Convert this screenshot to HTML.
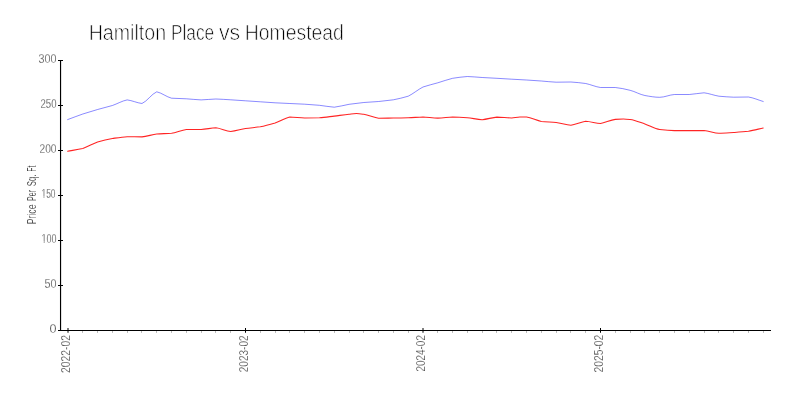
<!DOCTYPE html>
<html lang="en"><head><meta charset="utf-8"><title>Hamilton Place vs Homestead</title>
<style>
html,body{margin:0;padding:0;background:#fff}
body{width:800px;height:400px;overflow:hidden}
svg{display:block}
body,svg,g,text,tspan{font-family:"Liberation Sans",sans-serif}
.t{fill:#000;stroke:#fff;stroke-width:0.72px}
.l{fill:#333;stroke:#fff;stroke-width:0.28px}
.r{fill:#222;stroke:#fff;stroke-width:0.15px}
.x{fill:#1a1a1a;stroke:#fff;stroke-width:0.32px}
</style></head><body>
<svg width="800" height="400" viewBox="0 0 800 400" font-family="Liberation Sans, sans-serif">
<rect width="800" height="400" fill="#fff"/>
<text y="40.4" font-size="22" class="t"><tspan x="88.7" textLength="77.4" lengthAdjust="spacingAndGlyphs">Hamilton</tspan> <tspan x="170.95" textLength="43.3" lengthAdjust="spacingAndGlyphs">Place</tspan> <tspan x="218.9" textLength="21.2" lengthAdjust="spacingAndGlyphs">vs</tspan> <tspan x="244.75" textLength="99.1" lengthAdjust="spacingAndGlyphs">Homestead</tspan></text>
<path d="M82.5 331v1.9M97.5 331v1.9M112.5 331v1.9M127.5 331v1.9M141.5 331v1.9M156.5 331v1.9M171.5 331v1.9M186.5 331v1.9M201.5 331v1.9M215.5 331v1.9M230.5 331v1.9M260.5 331v1.9M275.5 331v1.9M289.5 331v1.9M304.5 331v1.9M319.5 331v1.9M334.5 331v1.9M349.5 331v1.9M363.5 331v1.9M378.5 331v1.9M393.5 331v1.9M408.5 331v1.9M437.5 331v1.9M452.5 331v1.9M467.5 331v1.9M482.5 331v1.9M496.5 331v1.9M511.5 331v1.9M526.5 331v1.9M541.5 331v1.9M556.5 331v1.9M570.5 331v1.9M585.5 331v1.9M615.5 331v1.9M630.5 331v1.9M644.5 331v1.9M659.5 331v1.9M674.5 331v1.9M689.5 331v1.9M704.5 331v1.9M718.5 331v1.9M733.5 331v1.9M748.5 331v1.9M763.5 331v1.9" stroke="#b8b8b8" stroke-width="1" fill="none"/>
<path d="M60.55 60V331.00" stroke="#000" stroke-width="1.15" fill="none"/>
<path d="M58 330.45H771" stroke="#000" stroke-width="1.15" fill="none"/>
<path d="M58 330.50h5M58 285.50h5M58 240.50h5M58 195.50h5M58 150.50h5M58 105.50h5M58 60.50h5" stroke="#000" stroke-width="1" fill="none"/>
<path d="M68.00 328v4.75M245.50 328v4.75M423.01 328v4.75M600.51 328v4.75" stroke="#000" stroke-width="1" fill="none"/>
<text x="49.50" y="332.75" font-size="12.3" textLength="7.00" lengthAdjust="spacingAndGlyphs" class="l">0</text>
<text x="44.50" y="287.75" font-size="12.3" textLength="12.00" lengthAdjust="spacingAndGlyphs" class="l">50</text>
<text x="41.50" y="242.75" font-size="12.3" textLength="15.00" lengthAdjust="spacingAndGlyphs" class="l">100</text>
<text x="41.50" y="197.75" font-size="12.3" textLength="14.00" lengthAdjust="spacingAndGlyphs" class="l">150</text>
<text x="39.50" y="152.75" font-size="12.3" textLength="17.00" lengthAdjust="spacingAndGlyphs" class="l">200</text>
<text x="40.50" y="107.75" font-size="12.3" textLength="16.00" lengthAdjust="spacingAndGlyphs" class="l">250</text>
<text x="38.50" y="62.75" font-size="12.3" textLength="18.00" lengthAdjust="spacingAndGlyphs" class="l">300</text>
<path d="M41.74 196.40H43.56V198.25H41.74ZM44.40 196.40H46.16V198.25H44.40Z" fill="#fff"/>
<path d="M41.78 241.40H43.71V243.25H41.78ZM44.61 241.40H46.46V243.25H44.61Z" fill="#fff"/>
<text transform="translate(70.10 373.00) rotate(-90)" font-size="12.5" textLength="37.90" lengthAdjust="spacingAndGlyphs" class="x">2022-02</text>
<text transform="translate(247.60 372.20) rotate(-90)" font-size="12.5" textLength="36.70" lengthAdjust="spacingAndGlyphs" class="x">2023-02</text>
<text transform="translate(425.11 371.50) rotate(-90)" font-size="12.5" textLength="36.40" lengthAdjust="spacingAndGlyphs" class="x">2024-02</text>
<text transform="translate(602.61 372.40) rotate(-90)" font-size="12.5" textLength="37.70" lengthAdjust="spacingAndGlyphs" class="x">2025-02</text>
<text transform="translate(36 0) rotate(-90)" font-size="12.5" class="r"><tspan x="-224.30" textLength="19.80" lengthAdjust="spacingAndGlyphs">Price</tspan> <tspan x="-201.00" textLength="11.00" lengthAdjust="spacingAndGlyphs">Per</tspan> <tspan x="-186.20" textLength="11.70" lengthAdjust="spacingAndGlyphs">Sq.</tspan> <tspan x="-171.40" textLength="5.70" lengthAdjust="spacingAndGlyphs">Ft</tspan></text>
<path d="M67.60 119.60C72.66 117.73 77.73 115.78 82.79 114.00C87.72 112.43 92.65 110.96 97.58 109.50C102.51 108.13 107.45 106.94 112.38 105.50C117.31 103.79 122.24 100.83 127.17 99.90C132.10 100.50 137.03 102.90 141.96 103.50C146.89 101.55 151.82 93.75 156.75 91.80C161.68 92.87 166.61 96.95 171.54 98.20C176.47 98.48 181.41 98.57 186.34 98.80C191.27 99.11 196.20 99.72 201.13 99.90C206.06 99.75 210.99 99.15 215.92 99.00C220.85 99.13 225.78 99.52 230.71 99.80C235.64 100.11 240.57 100.47 245.50 100.80C250.43 101.13 255.37 101.47 260.30 101.80C265.23 102.13 270.16 102.50 275.09 102.80C280.02 103.05 284.95 103.27 289.88 103.50C294.81 103.73 299.74 103.94 304.67 104.20C309.60 104.53 314.53 104.88 319.46 105.30C324.39 105.85 329.33 106.88 334.26 107.20C339.19 106.72 344.12 105.15 349.05 104.30C353.98 103.63 358.91 103.01 363.84 102.50C368.77 102.12 373.70 101.88 378.63 101.50C383.56 101.01 388.49 100.47 393.42 99.80C398.35 98.82 403.29 97.66 408.22 96.20C413.15 93.80 418.08 89.49 423.01 87.00C427.94 85.34 432.87 84.22 437.80 82.80C442.73 81.33 447.66 79.48 452.59 78.30C457.52 77.57 462.45 76.80 467.38 76.50C472.31 76.67 477.25 77.19 482.18 77.50C487.11 77.78 492.04 78.03 496.97 78.30C501.90 78.59 506.83 78.91 511.76 79.20C516.69 79.47 521.62 79.72 526.55 80.00C531.48 80.31 536.41 80.65 541.34 81.00C546.27 81.38 551.21 82.00 556.14 82.20C561.07 82.17 566.00 82.03 570.93 82.00C575.86 82.25 580.79 82.89 585.72 83.50C590.65 84.53 595.58 86.83 600.51 87.50C605.44 87.50 610.37 87.50 615.30 87.50C620.23 87.97 625.17 89.09 630.10 90.30C635.03 91.51 639.96 94.61 644.89 95.50C649.82 96.39 654.75 97.30 659.68 97.30C664.61 97.30 669.54 94.78 674.47 94.50C679.40 94.50 684.33 94.50 689.26 94.50C694.19 94.22 699.13 93.08 704.06 92.80C708.99 93.37 713.92 95.38 718.85 96.20C723.78 96.62 728.71 97.03 733.64 97.20C738.57 97.17 743.50 97.03 748.43 97.00C753.36 97.75 758.29 100.00 763.22 101.50" stroke="#00f" stroke-opacity="0.46" stroke-width="1" fill="none" stroke-linejoin="round" stroke-linecap="round"/>
<path d="M67.60 151.20C72.66 150.30 77.73 149.59 82.79 148.50C87.72 146.79 92.65 143.84 97.58 142.00C102.51 140.66 107.45 139.48 112.38 138.50C117.31 137.80 122.24 137.00 127.17 136.70C132.10 136.73 137.03 136.87 141.96 136.90C146.89 136.42 151.82 134.67 156.75 134.00C161.68 133.70 166.61 133.61 171.54 133.30C176.47 132.47 181.41 130.13 186.34 129.50C191.27 129.50 196.20 129.50 201.13 129.50C206.06 129.22 210.99 128.08 215.92 127.80C220.85 128.42 225.78 130.88 230.71 131.50C235.64 131.00 240.57 129.36 245.50 128.50C250.43 127.85 255.37 127.47 260.30 126.80C265.23 125.78 270.16 124.41 275.09 123.00C280.02 121.22 284.95 118.00 289.88 117.00C294.81 117.17 299.74 117.83 304.67 118.00C309.60 117.97 314.53 117.89 319.46 117.80C324.39 117.46 329.33 116.69 334.26 116.10C339.19 115.49 344.12 114.70 349.05 114.20C351.51 113.95 353.98 113.55 356.44 113.55C358.91 113.55 361.37 113.95 363.84 114.30C368.77 114.99 373.70 117.63 378.63 118.30C383.56 118.26 388.49 118.13 393.42 118.05C398.35 117.97 403.29 117.91 408.22 117.80C413.15 117.60 418.08 117.19 423.01 117.00C427.94 117.26 432.87 117.92 437.80 118.10C442.73 117.92 447.66 117.26 452.59 117.00C457.52 117.19 462.45 117.48 467.38 117.80C472.31 118.30 477.25 119.38 482.18 119.70C487.11 119.27 492.04 117.53 496.97 117.10C501.90 117.25 506.83 117.85 511.76 118.00C514.47 117.83 517.18 117.00 519.90 117.00C522.11 117.00 524.33 117.00 526.55 117.00C531.48 117.75 536.41 120.48 541.34 121.50C546.27 121.94 551.21 122.09 556.14 122.50C561.07 123.19 566.00 124.75 570.93 125.20C575.86 124.55 580.79 121.95 585.72 121.30C590.65 121.67 595.58 123.06 600.51 123.50C605.44 122.68 610.37 119.83 615.30 119.40C618.02 119.17 620.73 118.95 623.44 118.95C625.66 118.95 627.88 119.23 630.10 119.50C635.03 120.10 639.96 122.35 644.89 124.00C649.82 125.65 654.75 128.89 659.68 129.50C664.61 130.11 669.54 130.60 674.47 130.60C679.40 130.60 684.33 130.60 689.26 130.60C694.19 130.59 699.13 130.56 704.06 130.55C708.99 131.01 713.92 132.84 718.85 133.30C723.78 133.17 728.71 132.79 733.64 132.50C738.57 132.14 743.50 131.79 748.43 131.30C753.36 130.46 758.29 129.10 763.22 128.00" stroke="#f00" stroke-opacity="0.86" stroke-width="1.1" fill="none" stroke-linejoin="round" stroke-linecap="round"/>
</svg>
</body></html>
